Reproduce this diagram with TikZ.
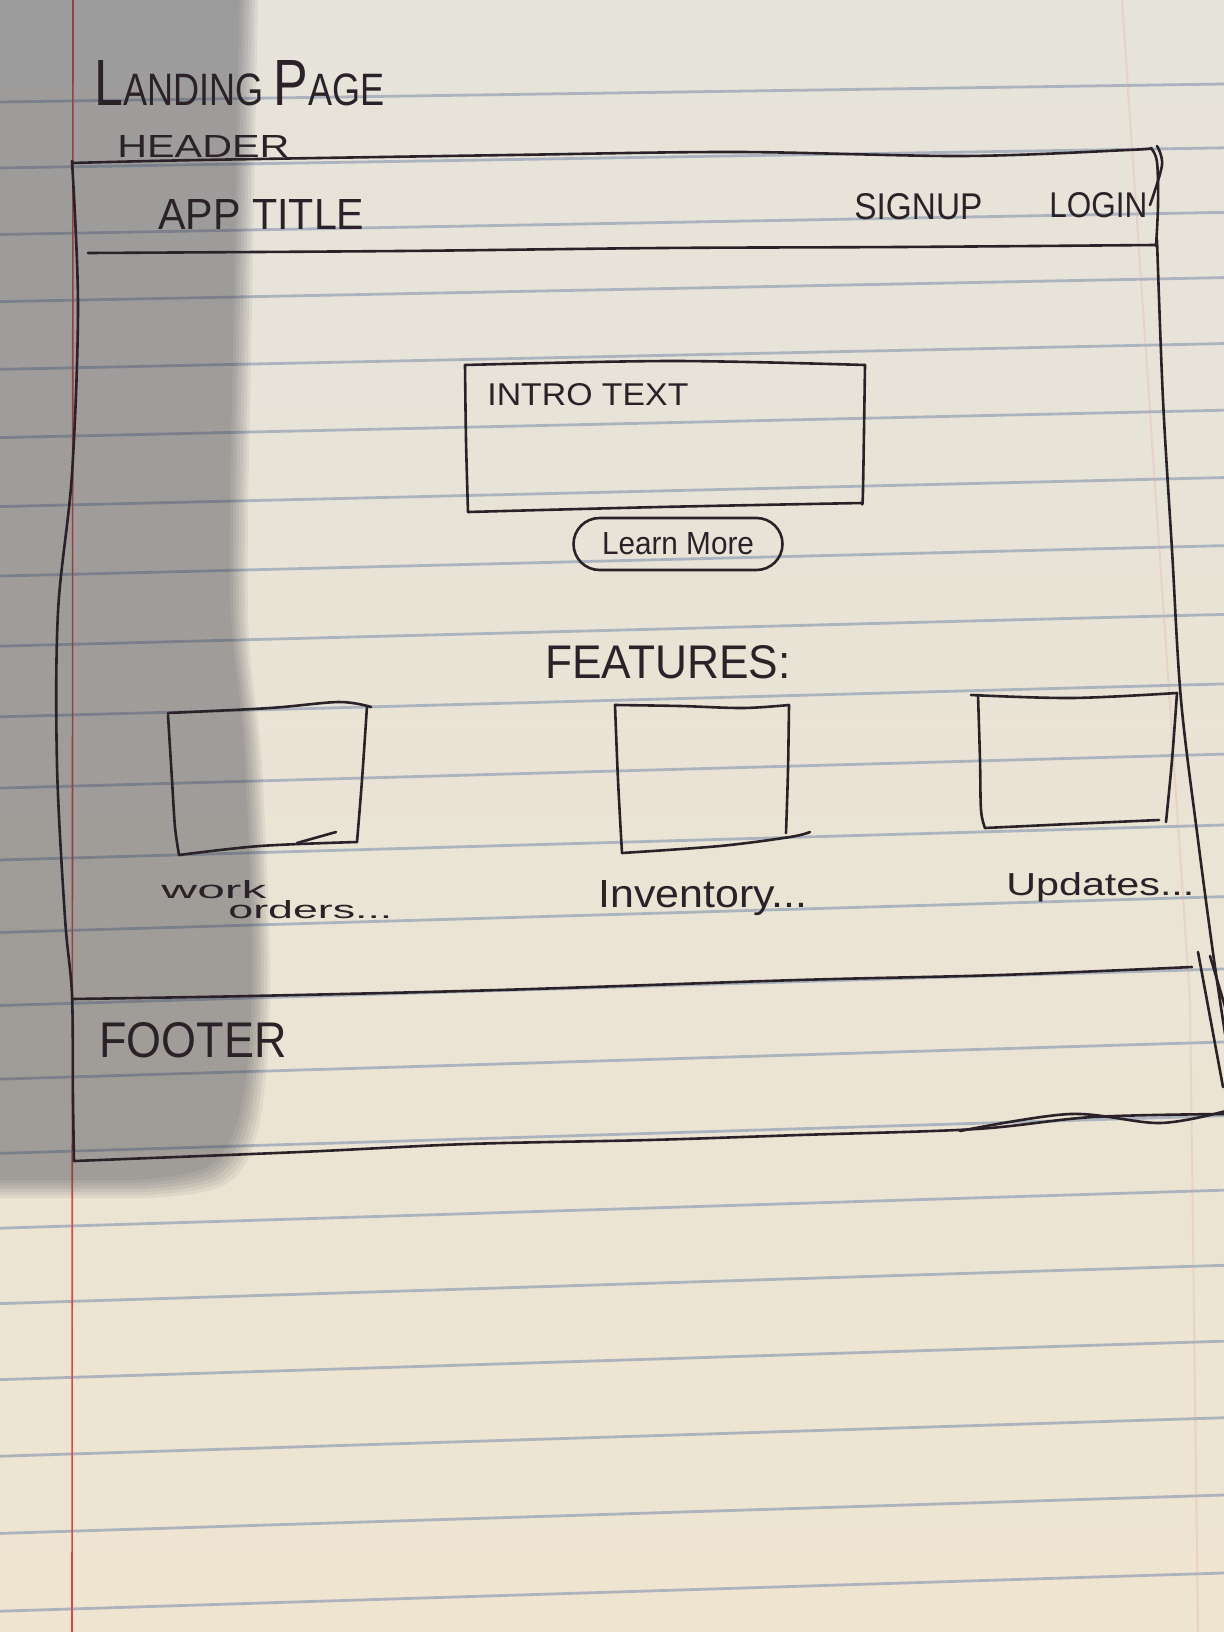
\documentclass[tikz,border=0pt]{standalone}
\usepackage{fontspec}
\setmainfont{Liberation Sans}
\definecolor{papertop}{RGB}{230,227,218}
\definecolor{paperbot}{RGB}{238,228,208}
\definecolor{ink}{RGB}{42,34,40}
\definecolor{ruling}{RGB}{150,163,183}
\definecolor{marginred}{RGB}{222,70,70}
\definecolor{shadowgray}{RGB}{55,58,70}
\tikzset{
  pen/.style={draw=ink, line width=1.3pt, line cap=round, line join=round},
  hand/.style={text=ink, inner sep=0pt, anchor=base west},
  wobble/.style={smooth, tension=0.55}
}
\begin{document}
\begin{tikzpicture}[x=0.5pt, y=-0.5pt]
\useasboundingbox (0,0) rectangle (1224,1632);
\clip (0,0) rectangle (1224,1632);

% notebook paper
\shade[top color=papertop, bottom color=paperbot] (0,0) rectangle (1224,1632);
\foreach \k in {0,...,21}{
  \pgfmathsetmacro{\yl}{102+65.65*\k+0.296*\k*\k}
  \pgfmathsetmacro{\yr}{84+63.47*\k+0.354*\k*\k}
  \draw[ruling, line width=1.4pt, opacity=0.75] (0,\yl) -- (1224,\yr);
}
\draw[marginred, line width=0.8pt] (73,0) -- (72,1632);
\draw[marginred!35!papertop, line width=1pt, opacity=0.3] (1122,0) -- (1190,1000) -- (1198,1632);

% shadow over the left strip
\foreach \d in {0,3,...,18}{
  \begin{scope}[shift={(-\d,-\d)}]
    \fill[shadowgray, opacity=0.07]
      (0,-40) -- (258,-40) -- plot[wobble] coordinates {(258,0) (252,306) (248,612) (262,765) (270,995) (258,1130) (225,1185) (150,1198)}
      -- (-40,1198) -- cycle;
  \end{scope}
}

% page frame: header band, body, footer band
\draw[pen] plot[wobble] coordinates {(72,163) (200,160) (511,155) (737,152) (963,156) (1128,150) (1151,148)};
\draw[pen] plot[wobble] coordinates {(1151,148) (1157,162) (1158,205) (1156,246)};
\draw[pen] plot[wobble] coordinates {(1157,146) (1162,165) (1150,205)};
\draw[pen] plot[wobble] coordinates {(88,253) (400,251) (662,248) (900,247) (1155,245)};
\draw[pen] plot[wobble] coordinates {(72,161) (78,306) (72,474) (58,612) (57,765) (65,918) (72,995) (73,1100) (74,1161)};
\draw[pen] plot[wobble] coordinates {(1157,240) (1163,400) (1172,550) (1181,700) (1198,840) (1214,960) (1226,1040)};
\draw[pen] plot[wobble] coordinates {(72,999) (250,996) (499,990) (798,980) (1000,975) (1192,967)};
\draw[pen] (1198,952) -- (1223,1087);
\draw[pen] (1210,956) -- (1226,1010);
\draw[pen] plot[wobble] coordinates {(74,1161) (300,1152) (468,1144) (649,1140) (800,1135) (976,1129) (1093,1117) (1226,1114)};
\draw[pen] plot[wobble] coordinates {(960,1131) (1070,1114) (1160,1123) (1226,1111)};

% intro text box
\draw[pen] plot[wobble] coordinates {(465,365) (673,361) (865,365)};
\draw[pen] plot[wobble] coordinates {(865,365) (863,490) (862,503)};
\draw[pen] plot[wobble] coordinates {(862,503) (660,507) (468,512)};
\draw[pen] plot[wobble] coordinates {(468,512) (466,440) (465,365)};

% feature boxes
\draw[pen] plot[wobble] coordinates {(168,713) (270,708) (339,702) (371,707)};
\draw[pen] plot[wobble] coordinates {(367,706) (362,780) (357,842)};
\draw[pen] plot[wobble] coordinates {(357,842) (260,846) (179,855)};
\draw[pen] (336,832) -- (297,843);
\draw[pen] plot[wobble] coordinates {(168,715) (172,780) (175,827) (179,855)};

\draw[pen] plot[wobble] coordinates {(615,705) (680,706) (743,708) (789,705)};
\draw[pen] plot[wobble] coordinates {(789,705) (788,770) (786,833)};
\draw[pen] plot[wobble] coordinates {(622,853) (720,846) (790,837) (810,832)};
\draw[pen] plot[wobble] coordinates {(615,705) (618,780) (622,853)};

\draw[pen] plot[wobble] coordinates {(971,695) (1072,698) (1177,693)};
\draw[pen] plot[wobble] coordinates {(1177,693) (1172,760) (1166,822)};
\draw[pen] plot[wobble] coordinates {(985,828) (1070,824) (1159,820)};
\draw[pen] plot[wobble] coordinates {(978,695) (980,760) (981,810) (985,828)};

% hand lettering
\node[hand] (title) at (94,105) {\resizebox{145pt}{22.5pt}{{\Large L}ANDING {\Large P}AGE}};
\node[hand] (headerlbl) at (117,157) {\resizebox{86pt}{11pt}{HEADER}};
\node[hand] (apptitle) at (158,229) {\resizebox{103pt}{15pt}{APP TITLE}};
\node[hand] (signup) at (854,219) {\resizebox{64pt}{13pt}{SIGNUP}};
\node[hand] (login) at (1049,217) {\resizebox{49pt}{12.5pt}{LOGIN}};
\node[hand] (intro) at (487,405) {\resizebox{100.5pt}{11pt}{INTRO TEXT}};
\node[pen, text=ink, rounded corners=13pt, minimum width=104.5pt, minimum height=26pt, inner sep=0pt]
  (learn) at (678,544) {\resizebox{76pt}{11pt}{Learn More}};
\node[hand] (features) at (545,678) {\resizebox{122.5pt}{16.5pt}{FEATURES:}};
\node[hand] (work) at (161,898) {\resizebox{52.5pt}{9pt}{work}};
\node[hand] (orders) at (228,918) {\resizebox{82pt}{9pt}{orders...}};
\node[hand] (inventory) at (598,907) {\resizebox{104.5pt}{13.5pt}{Inventory...}};
\node[hand] (updates) at (1006,895) {\resizebox{94pt}{11.5pt}{Updates...}};
\node[hand] (footer) at (99,1057) {\resizebox{93.5pt}{17.5pt}{FOOTER}};
\end{tikzpicture}
\end{document}
